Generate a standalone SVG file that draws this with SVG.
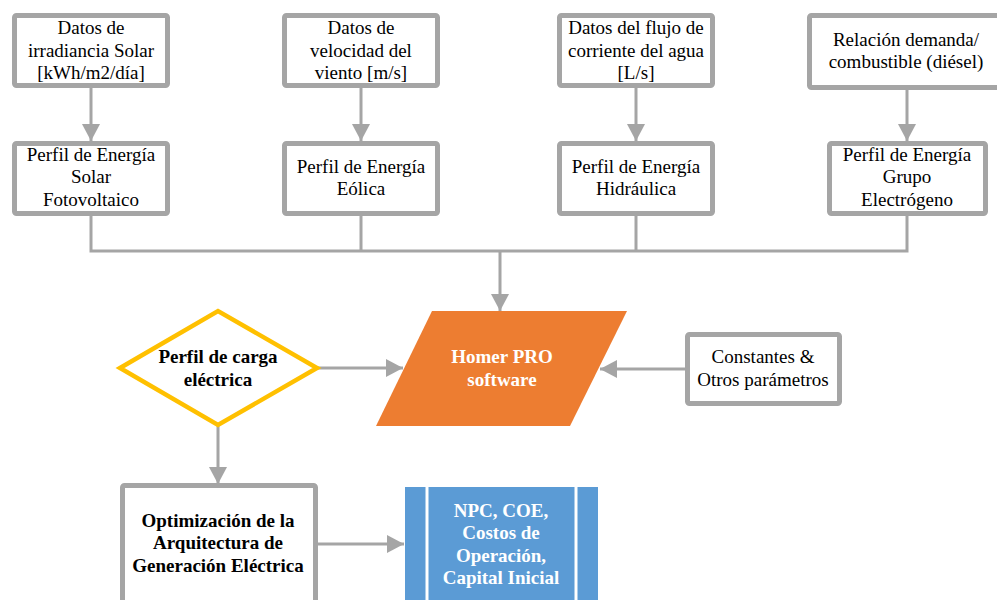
<svg xmlns="http://www.w3.org/2000/svg" width="997" height="600" viewBox="0 0 997 600">
<style>
.box{fill:#fff;stroke:#A5A5A5;stroke-width:5}
.t{font-family:"Liberation Serif","Times New Roman",serif;font-size:19px;fill:#000;text-anchor:middle}
.b{font-weight:bold}
.w{fill:#fff}
.c{fill:none;stroke:#A5A5A5;stroke-width:3}
</style>
<defs>
<marker id="ah" markerUnits="userSpaceOnUse" markerWidth="17" markerHeight="18" refX="17" refY="9" orient="auto">
<path d="M0,0 L17,9 L0,18 z" fill="#A5A5A5"/>
</marker>
</defs>
<rect width="997" height="600" fill="#fff"/>
<g id="connectors">
<line class="c" x1="91" y1="88" x2="91" y2="141" marker-end="url(#ah)"/>
<line class="c" x1="361" y1="88" x2="361" y2="141" marker-end="url(#ah)"/>
<line class="c" x1="636" y1="88" x2="636" y2="141" marker-end="url(#ah)"/>
<line class="c" x1="907" y1="90" x2="907" y2="141" marker-end="url(#ah)"/>
<polyline class="c" points="91,216 91,251 907,251 907,216"/>
<line class="c" x1="361" y1="216" x2="361" y2="251"/>
<line class="c" x1="636" y1="216" x2="636" y2="251"/>
<line class="c" x1="500" y1="251" x2="500" y2="311" marker-end="url(#ah)"/>
<line class="c" x1="318" y1="368" x2="403" y2="368" marker-end="url(#ah)"/>
<line class="c" x1="685" y1="369" x2="600" y2="369" marker-end="url(#ah)"/>
<line class="c" x1="218" y1="426" x2="218" y2="484" marker-end="url(#ah)"/>
<line class="c" x1="318" y1="544" x2="404" y2="544" marker-end="url(#ah)"/>
</g>
<g id="n1">
<rect class="box" x="14.5" y="15.5" width="153" height="70" rx="2"/>
<text class="t" x="91" y="34">Datos de</text>
<text class="t" x="91" y="57">irradiancia Solar</text>
<text class="t" x="91" y="79">[kWh/m2/día]</text>
</g>
<g id="n2">
<rect class="box" x="284.5" y="15.5" width="153" height="70" rx="2"/>
<text class="t" x="361" y="34">Datos de</text>
<text class="t" x="361" y="57">velocidad del</text>
<text class="t" x="361" y="79">viento [m/s]</text>
</g>
<g id="n3">
<rect class="box" x="559.5" y="15.5" width="153" height="70" rx="2"/>
<text class="t" x="636" y="34">Datos del flujo de</text>
<text class="t" x="636" y="57">corriente del agua</text>
<text class="t" x="636" y="79">[L/s]</text>
</g>
<g id="n4">
<rect class="box" x="809.5" y="15.5" width="195" height="72" rx="2"/>
<text class="t" x="906" y="46">Relación demanda/</text>
<text class="t" x="906" y="68">combustible (diésel)</text>
</g>
<g id="p1">
<rect class="box" x="14.5" y="143.5" width="153" height="70" rx="2"/>
<text class="t" x="91" y="161">Perfil de Energía</text>
<text class="t" x="91" y="183">Solar</text>
<text class="t" x="91" y="206">Fotovoltaico</text>
</g>
<g id="p2">
<rect class="box" x="284.5" y="143.5" width="153" height="70" rx="2"/>
<text class="t" x="361" y="173">Perfil de Energía</text>
<text class="t" x="361" y="195">Eólica</text>
</g>
<g id="p3">
<rect class="box" x="559.5" y="143.5" width="153" height="70" rx="2"/>
<text class="t" x="636" y="173">Perfil de Energía</text>
<text class="t" x="636" y="195">Hidráulica</text>
</g>
<g id="p4">
<rect class="box" x="829.5" y="143.5" width="156" height="70" rx="2"/>
<text class="t" x="907" y="161">Perfil de Energía</text>
<text class="t" x="907" y="183">Grupo</text>
<text class="t" x="907" y="206">Electrógeno</text>
</g>
<g id="homer">
<polygon points="432,311 627,311 570,426 376,426" fill="#ED7D31"/>
<text class="t b w" x="502" y="363">Homer PRO</text>
<text class="t b w" x="502" y="386">software</text>
</g>
<g id="carga">
<polygon points="120,368 218,311 317,368 218,425" fill="#fff" stroke="#FFC000" stroke-width="4.5" stroke-linejoin="miter"/>
<text class="t b" x="218" y="363">Perfil de carga</text>
<text class="t b" x="218" y="386">eléctrica</text>
</g>
<g id="constantes">
<rect class="box" x="687.5" y="334.5" width="152" height="69" rx="2"/>
<text class="t" x="763" y="363">Constantes &amp;</text>
<text class="t" x="763" y="386">Otros parámetros</text>
</g>
<g id="optim">
<rect class="box" x="122.5" y="485.5" width="193" height="130" rx="2"/>
<text class="t b" x="218" y="527">Optimización de la</text>
<text class="t b" x="218" y="549">Arquitectura de</text>
<text class="t b" x="218" y="572">Generación Eléctrica</text>
</g>
<g id="resultados">
<rect x="405" y="487" width="193" height="120" fill="#5B9BD5"/>
<line x1="427" y1="487" x2="427" y2="607" stroke="#fff" stroke-width="3"/>
<line x1="576" y1="487" x2="576" y2="607" stroke="#fff" stroke-width="3"/>
<text class="t b w" x="501" y="517">NPC, COE,</text>
<text class="t b w" x="501" y="539">Costos de</text>
<text class="t b w" x="501" y="562">Operación,</text>
<text class="t b w" x="501" y="584">Capital Inicial</text>
</g>
</svg>
